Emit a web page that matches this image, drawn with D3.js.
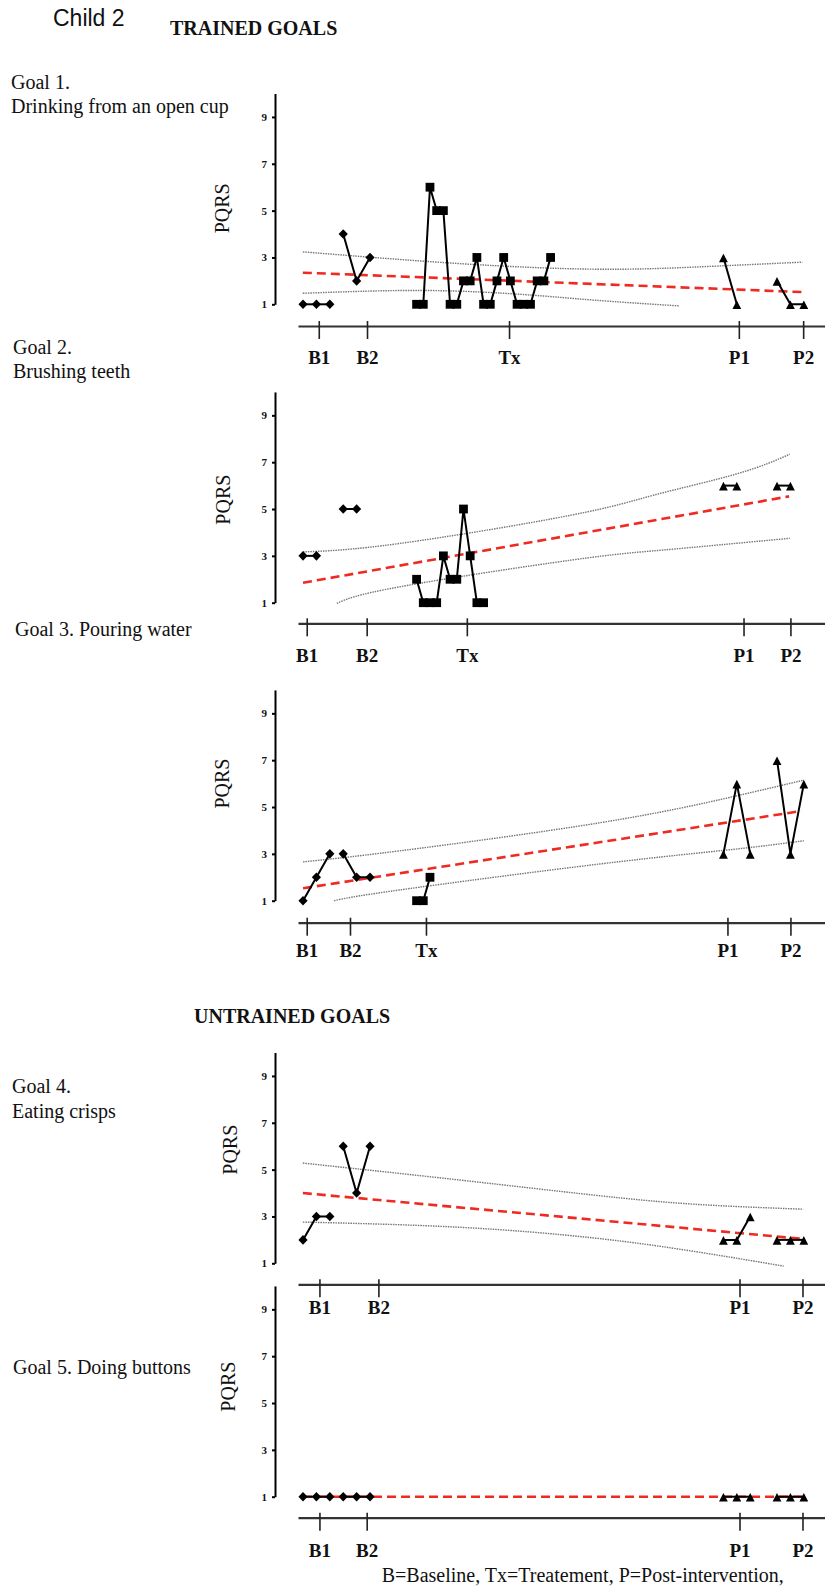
<!DOCTYPE html>
<html lang="en">
<head>
<meta charset="utf-8">
<title>Child 2 - PQRS</title>
<script src="https://d3js.org/d3.v7.min.js"></script>
<style>
  body { margin: 0; background: #fff; }
  svg text { font-family: "Liberation Serif", "Times New Roman", serif; fill: #111; }
  .band { fill: none; stroke: #777; stroke-width: 1.4; stroke-dasharray: 1.5,1; }
  .trend { fill: none; stroke: #ee2a22; stroke-width: 2.6; stroke-dasharray: 9,5; }
  .series { fill: none; stroke: #000; stroke-width: 2; }
  .yaxis path, .yaxis line { stroke: #000; stroke-width: 2; }
  .xaxis path { stroke: #333; stroke-width: 2.2; }
  .xaxis line { stroke: #222; stroke-width: 1.6; }
</style>
</head>
<body>
<script>
// ---- data ----
var phaseLabels = ["B1", "B2", "Tx", "P1", "P2"];
var untrainedLabels = ["B1", "B2", "P1", "P2"];
var yTicks = [1, 3, 5, 7, 9];

// session positions of each phase
var sessB1 = [0.75, 2.75, 4.75];
var sessB2 = [6.75, 8.75, 10.75];
var sessP1 = [63.5, 65.5, 67.5];
var sessP2 = [71.5, 73.5, 75.5];
var txStart = 17.7;

// Goal 1. Drinking from an open cup
var g1B1 = [1, 1, 1];
var g1B2 = [4, 2, 3];
var g1Tx = [1, 1, 6, 5, 5, 1, 1, 2, 2, 3, 1, 1, 2, 3, 2, 1, 1, 1, 2, 2, 3];
var g1P1 = [3, 1];
var g1P2 = [2, 1, 1];
var g1Ticks = [3.1, 10.3, 31.5, 65.8, 75.4];
var g1Trend = [[0.72, 2.35], [75.5, 1.52]];
var g1Upper = [[0.72, 3.24], [24, 2.74], [44.1, 2.5], [59.2, 2.59], [75.3, 2.8]];
var g1Lower = [[0.72, 1.47], [18.9, 1.59], [34, 1.41], [44.1, 1.18], [56.9, 0.93]];

// Goal 2. Brushing teeth
var g2B1 = [3, 3];
var g2B2 = [5, 5];
var g2Tx = [2, 1, 1, 1, 3, 2, 2, 5, 3, 1, 1];
var g2P1 = [6, 6];
var g2P2 = [6, 6];
var g2Ticks = [1.3, 10.25, 25.2, 66.5, 73.5];
var g2Trend = [[0.75, 1.85], [73.3, 5.54]];
var g2Upper = [[0.75, 3.17], [15.2, 3.53], [40.8, 4.74], [53.2, 5.6], [65.6, 6.51], [73.4, 7.34]];
var g2Lower = [[5.8, 0.97], [15.2, 1.68], [40.8, 2.82], [54.5, 3.25], [73.4, 3.75]];

// Goal 3. Pouring water
var g3B1 = [1, 2, 3];
var g3B2 = [3, 2, 2];
var g3Tx = [1, 1, 2];
var g3P1 = [3, 6, 3];
var g3P2 = [7, 3, 6];
var g3Ticks = [1.3, 7.76, 19.1, 64.1, 73.5];
var g3Trend = [[0.75, 1.53], [75.1, 4.83]];
var g3Upper = [[0.75, 2.66], [15.2, 3.13], [45.1, 4.33], [64.9, 5.44], [75.5, 6.15]];
var g3Lower = [[5.4, 1.0], [15.2, 1.46], [45.1, 2.57], [64.9, 3.19], [75.5, 3.56]];

// Goal 4. Eating crisps
var g4B1 = [2, 3, 3];
var g4B2 = [6, 4, 6];
var g4P1 = [2, 2, 3];
var g4P2 = [2, 2, 2];
var g4Ticks = [3.2, 12.0, 65.9, 75.3];
var g4Trend = [[0.72, 4.0], [75.4, 2.04]];
var g4Upper = [[0.72, 5.28], [24, 4.56], [44.2, 3.91], [59.3, 3.52], [75.4, 3.31]];
var g4Lower = [[0.72, 2.76], [24, 2.54], [44.2, 2.08], [59.3, 1.5], [72.5, 0.88]];

// Goal 5. Doing buttons
var g5B1 = [1, 1, 1];
var g5B2 = [1, 1, 1];
var g5P1 = [1, 1, 1];
var g5P2 = [1, 1, 1];
var g5Ticks = [3.2, 10.25, 65.9, 75.3];
var g5Trend = [[0.75, 1], [75.5, 1]];

// ---- layout ----
var w = 825, h = 1589;
var unit = 23.42;   // px per PQRS point

function txSessions(vals) {
    return vals.map(function(d, i) { return txStart + i; });
}

var panels = [
    { y1: 304.3, axisY: 326, labelOff: 38, pqrs: [221.7, 5.1], ticks: g1Ticks, labels: phaseLabels,
      trend: g1Trend, upper: g1Upper, lower: g1Lower,
      segs: [["diamond", sessB1, g1B1], ["diamond", sessB2, g1B2], ["square", txSessions(g1Tx), g1Tx],
             ["triangle", sessP1, g1P1], ["triangle", sessP2, g1P2]] },
    { y1: 602.7, axisY: 623.3, labelOff: 39, pqrs: [223, 5.4], ticks: g2Ticks, labels: phaseLabels,
      trend: g2Trend, upper: g2Upper, lower: g2Lower,
      segs: [["diamond", sessB1, g2B1], ["diamond", sessB2, g2B2], ["square", txSessions(g2Tx), g2Tx],
             ["triangle", sessP1, g2P1], ["triangle", sessP2, g2P2]] },
    { y1: 900.7, axisY: 922.7, labelOff: 34.5, pqrs: [221.7, 6.0], ticks: g3Ticks, labels: phaseLabels,
      trend: g3Trend, upper: g3Upper, lower: g3Lower,
      segs: [["diamond", sessB1, g3B1], ["diamond", sessB2, g3B2], ["square", txSessions(g3Tx), g3Tx],
             ["triangle", sessP1, g3P1], ["triangle", sessP2, g3P2]] },
    { y1: 1263.3, axisY: 1284.3, labelOff: 30, pqrs: [230, 5.85], ticks: g4Ticks, labels: untrainedLabels,
      trend: g4Trend, upper: g4Upper, lower: g4Lower,
      segs: [["diamond", sessB1, g4B1], ["diamond", sessB2, g4B2],
             ["triangle", sessP1, g4P1], ["triangle", sessP2, g4P2]] },
    { y1: 1496.7, axisY: 1517.7, labelOff: 39, pqrs: [228.3, 5.7], ticks: g5Ticks, labels: untrainedLabels,
      trend: g5Trend, upper: null, lower: null,
      segs: [["diamond", sessB1, g5B1], ["diamond", sessB2, g5B2],
             ["triangle", sessP1, g5P1], ["triangle", sessP2, g5P2]] }
];

var shapes = {
    diamond: "M0,-4.8L4.6,0L0,4.8L-4.6,0Z",
    square: "M-4.4,-4.4h8.8v8.8h-8.8Z",
    triangle: "M0,-3.8L4.4,4.8L-4.4,4.8Z"
};

var svg = d3.select("body").append("svg").attr("width", w).attr("height", h);
svg.append("rect").attr("width", w).attr("height", h).attr("fill", "white");

// x scale in session units, shared by all panels
var x_scale = d3.scaleLinear().domain([0, 78.66]).range([298, 825]);

// headings
svg.append("text").attr("x", 53).attr("y", 26).text("Child 2")
    .style("font-family", "'Liberation Sans', Arial, sans-serif").style("font-size", "23px");
svg.append("text").attr("x", 170).attr("y", 35).text("TRAINED GOALS")
    .style("font-size", "20px").style("font-weight", "bold");
svg.append("text").attr("x", 194).attr("y", 1022.7).text("UNTRAINED GOALS")
    .style("font-size", "20px").style("font-weight", "bold");

var goalText = [
    [11, 89, "Goal 1."], [11, 113, "Drinking from an open cup"],
    [13, 354, "Goal 2."], [13, 378, "Brushing teeth"],
    [15, 636, "Goal 3. Pouring water"],
    [12, 1093, "Goal 4."], [12, 1118, "Eating crisps"],
    [13, 1374, "Goal 5. Doing buttons"]
];
svg.selectAll("text.goal").data(goalText).enter().append("text")
    .attr("class", "goal")
    .attr("x", function(d) { return d[0]; })
    .attr("y", function(d) { return d[1]; })
    .style("font-size", "20px")
    .text(function(d) { return d[2]; });

svg.append("text").attr("x", 381.7).attr("y", 1581.7)
    .style("font-size", "20px")
    .text("B=Baseline, Tx=Treatement, P=Post-intervention,");

// panels
panels.forEach(function(p) {
    var y_scale = d3.scaleLinear().domain([1, 10]).range([p.y1, p.y1 - 9 * unit]);
    var g = svg.append("g");

    // y axis
    var y_axis = d3.axisLeft(y_scale).tickValues(yTicks).tickSize(3).tickSizeOuter(0).tickPadding(5);
    g.append("g").attr("class", "yaxis").attr("transform", "translate(275,0)").call(y_axis)
        .selectAll("text")
        .style("font-family", "'Liberation Serif', 'Times New Roman', serif")
        .style("font-size", "11px").style("font-weight", "bold").attr("fill", "#111");

    // x axis
    var x_axis = d3.axisBottom(x_scale).tickValues(p.ticks)
        .tickFormat(function(d, i) { return p.labels[i]; }).tickSizeOuter(0);
    var xa = g.append("g").attr("class", "xaxis").attr("transform", "translate(0," + p.axisY + ")").call(x_axis);
    xa.selectAll(".tick line").attr("y1", -5).attr("y2", 13);
    xa.selectAll(".tick text").attr("y", p.labelOff).attr("dy", null)
        .style("font-family", "'Liberation Serif', 'Times New Roman', serif")
        .style("font-size", "19px").style("font-weight", "bold").attr("fill", "#111");

    // PQRS label
    g.append("text")
        .attr("transform", "translate(" + p.pqrs[0] + "," + y_scale(p.pqrs[1]) + ") rotate(-90)")
        .attr("text-anchor", "middle").attr("dominant-baseline", "central")
        .style("font-size", "20px").text("PQRS");

    var line = d3.line().x(function(d) { return x_scale(d[0]); }).y(function(d) { return y_scale(d[1]); });
    var curve = d3.line().curve(d3.curveNatural)
        .x(function(d) { return x_scale(d[0]); }).y(function(d) { return y_scale(d[1]); });

    // confidence bands
    [p.upper, p.lower].forEach(function(b) {
        if (b) g.append("path").attr("class", "band").attr("d", curve(b));
    });

    // trend line
    g.append("path").attr("class", "trend").attr("d", line(p.trend));

    // data segments
    p.segs.forEach(function(s) {
        var pts = s[2].map(function(v, i) { return [s[1][i], v]; });
        g.append("path").attr("class", "series").attr("d", line(pts));
        g.selectAll(null).data(pts).enter().append("path")
            .attr("d", shapes[s[0]])
            .attr("fill", "#000")
            .attr("transform", function(d) {
                return "translate(" + x_scale(d[0]) + "," + y_scale(d[1]) + ")";
            });
    });
});
</script>
</body>
</html>
